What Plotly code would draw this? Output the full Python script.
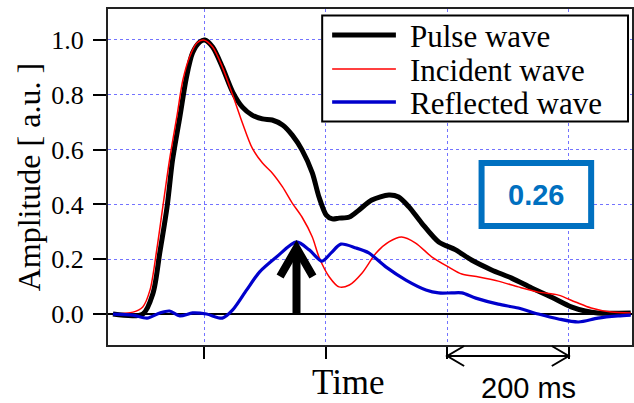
import plotly.graph_objects as go

# ---------------- data (time in ms, amplitude in a.u.) ----------------
pulse_t = [0, 49, 66, 77, 89, 98, 110, 121, 131, 143, 151, 164, 180, 197, 213, 229, 246, 262, 279,
           295, 311, 328, 339, 351, 361, 372, 389, 405, 426, 454, 470, 487, 508, 536, 564, 590,
           623, 656, 689, 721, 754, 777, 798, 852]
pulse_a = [0.000, 0.000, 0.077, 0.223, 0.391, 0.562, 0.719, 0.865, 0.953, 0.993, 1.000, 0.974,
           0.901, 0.810, 0.755, 0.726, 0.712, 0.708, 0.690, 0.653, 0.599, 0.515, 0.427, 0.361,
           0.347, 0.350, 0.354, 0.380, 0.416, 0.434, 0.427, 0.391, 0.332, 0.263, 0.234, 0.197,
           0.161, 0.131, 0.095, 0.062, 0.026, 0.011, 0.004, 0.004]

incident_t = [0, 33, 49, 61, 72, 82, 93, 105, 115, 126, 138, 149, 164, 180, 197, 213, 229, 246,
              262, 279, 295, 311, 328, 339, 356, 372, 389, 410, 433, 454, 475, 498, 525, 552,
              574, 602, 634, 667, 700, 733, 761, 787, 820, 852]
incident_a = [0.000, 0.007, 0.026, 0.088, 0.234, 0.391, 0.562, 0.719, 0.854, 0.938, 0.989, 1.000,
              0.974, 0.901, 0.799, 0.697, 0.606, 0.551, 0.515, 0.464, 0.405, 0.354, 0.281, 0.208,
              0.135, 0.099, 0.106, 0.150, 0.223, 0.263, 0.281, 0.259, 0.208, 0.172, 0.146, 0.135,
              0.120, 0.099, 0.080, 0.069, 0.044, 0.022, 0.007, 0.004]

reflected_t = [0, 33, 56, 77, 93, 110, 131, 154, 180, 197, 220, 241, 269, 302, 323, 344, 359, 375,
               400, 421, 449, 482, 515, 536, 557, 574, 597, 634, 667, 700, 733, 766, 798, 831, 852]
reflected_a = [0.000, -0.004, -0.015, 0.004, 0.011, -0.007, 0.004, 0.000, -0.015, 0.015, 0.088,
               0.153, 0.208, 0.263, 0.234, 0.193, 0.223, 0.255, 0.241, 0.223, 0.172, 0.124, 0.088,
               0.077, 0.077, 0.077, 0.058, 0.036, 0.022, 0.000, -0.018, -0.029, -0.015, -0.007,
               -0.004]

series_names = ["Pulse wave", "Incident wave", "Reflected wave"]
series_colors = ["#000000", "#ff0000", "#0000cc"]
series_widths = [5, 1.5, 3.2]

grid_ticks = [150, 350, 550, 750]          # vertical grid lines / x ticks (200 ms apart)
y_ticks = [0.0, 0.2, 0.4, 0.6, 0.8, 1.0]
y_tick_labels = ["0.0", "0.2", "0.4", "0.6", "0.8", "1.0"]
scale_start, scale_end = 550, 750           # "200 ms" scale bar
x_title = "Time"
y_title = "Amplitude [ a.u. ]"
scale_label = "200 ms"

# ---------------- layout geometry ----------------
W, H = 634, 403
L, R, T, B = 108, 0, 9, 58
PW, PH = W - L - R, H - T - B
X_RANGE = [-8.2, 854.1]
Y_RANGE = [-0.113, 1.113]


def px_x(p):
    return (p - L) / PW


def px_y(p):
    return 1 - (p - T) / PH


SERIF = "Liberation Serif"
SANS = "Liberation Sans"
BOX_BLUE = "#0070C0"

fig = go.Figure()
for t, a, n, c, w in zip([pulse_t, incident_t, reflected_t], [pulse_a, incident_a, reflected_a],
                         series_names, series_colors, series_widths):
    fig.add_trace(go.Scatter(x=t, y=a, name=n, mode="lines",
                             line=dict(color=c, width=w, shape="spline", smoothing=0.8),
                             showlegend=False))

shapes = []
annotations = []

# legend (drawn manually)
shapes.append(dict(type="rect", xref="paper", yref="paper", x0=px_x(323), x1=px_x(630),
                   y0=px_y(121.5), y1=px_y(15.5), line=dict(color="black", width=2),
                   fillcolor="white", layer="above"))
for i, (n, c, w) in enumerate(zip(series_names, series_colors, series_widths)):
    yy = [35, 69, 102][i]
    lw = [5, 1.5, 3.5][i]
    shapes.append(dict(type="line", xref="paper", yref="paper", x0=px_x(333), x1=px_x(397),
                       y0=px_y(yy), y1=px_y(yy), line=dict(color=c, width=lw), layer="above"))
    annotations.append(dict(xref="paper", yref="paper", x=px_x(409), y=px_y(yy + 1), text=n,
                            showarrow=False, xanchor="left", yanchor="middle",
                            font=dict(family=SERIF, size=31, color="black")))

# value box (peak of reflected wave)
peak_i = max(range(len(reflected_a)), key=lambda i: reflected_a[i])
peak_t, peak_a = reflected_t[peak_i], reflected_a[peak_i]
shapes.append(dict(type="rect", xref="paper", yref="paper", x0=px_x(483), x1=px_x(593),
                   y0=px_y(226), y1=px_y(163), line=dict(color=BOX_BLUE, width=6),
                   fillcolor="white", layer="above"))
annotations.append(dict(xref="paper", yref="paper", x=px_x(538), y=px_y(195),
                        text=f"{peak_a:.2f}", showarrow=False, xanchor="center", yanchor="middle",
                        font=dict(family=SANS, size=29, color=BOX_BLUE, weight="bold")))

# arrow pointing at the reflected-wave peak
tip_a = peak_a - 0.022
shapes.append(dict(type="line", xref="x", yref="y", x0=peak_t, x1=peak_t, y0=0, y1=tip_a,
                   line=dict(color="black", width=8), layer="above"))
shapes.append(dict(type="path", xref="x", yref="y",
                   path=f"M{peak_t - 27},{tip_a - 0.104} L{peak_t},{tip_a} L{peak_t + 27},{tip_a - 0.104}",
                   line=dict(color="black", width=8), layer="above"))

# 200 ms scale bar below the axis
ybar = px_y(356)
shapes.append(dict(type="line", xref="x", yref="paper", x0=scale_start, x1=scale_end,
                   y0=ybar, y1=ybar, line=dict(color="black", width=2)))
dx = 17 * (X_RANGE[1] - X_RANGE[0]) / PW
for xe, sgn in [(scale_start, 1), (scale_end, -1)]:
    shapes.append(dict(type="path", xref="x", yref="paper",
                       path=f"M{xe + sgn * dx},{px_y(346)} L{xe},{ybar} L{xe + sgn * dx},{px_y(366)}",
                       line=dict(color="black", width=2)))
annotations.append(dict(xref="paper", yref="paper", x=px_x(530), y=px_y(388),
                        text=scale_label, showarrow=False, xanchor="center", yanchor="middle",
                        font=dict(family=SANS, size=29, color="black")))

# axis titles
annotations.append(dict(xref="paper", yref="paper", x=px_x(349), y=px_y(382), text=x_title,
                        showarrow=False, xanchor="center", yanchor="middle",
                        font=dict(family=SERIF, size=35, color="black")))
annotations.append(dict(xref="paper", yref="paper", x=px_x(29), y=px_y(177), text=y_title,
                        showarrow=False, xanchor="center", yanchor="middle", textangle=-90,
                        font=dict(family=SERIF, size=32, color="black")))

grid_color = "rgba(90,90,255,0.85)"
fig.update_layout(
    width=W, height=H,
    margin=dict(l=L, r=R, t=T, b=B, pad=0),
    paper_bgcolor="white", plot_bgcolor="white",
    shapes=shapes, annotations=annotations,
    showlegend=False,
    xaxis=dict(range=X_RANGE, tickvals=grid_ticks, ticktext=["" for _ in grid_ticks],
               ticks="outside", ticklen=12, tickwidth=1.5, tickcolor="black",
               showgrid=True, gridcolor=grid_color, griddash="dot", gridwidth=1,
               showline=True, linecolor="#222", linewidth=2, mirror=True, zeroline=False),
    yaxis=dict(range=Y_RANGE, tickvals=y_ticks, ticktext=y_tick_labels,
               ticks="outside", ticklen=13, tickwidth=1.5, tickcolor="black",
               ticklabelstandoff=4,
               tickfont=dict(family=SERIF, size=26, color="black"),
               showgrid=True, gridcolor=grid_color, griddash="dot", gridwidth=1,
               showline=True, linecolor="#222", linewidth=2, mirror=True,
               zeroline=True, zerolinecolor="black", zerolinewidth=1.5),
)

fig.write_html("out.html")
